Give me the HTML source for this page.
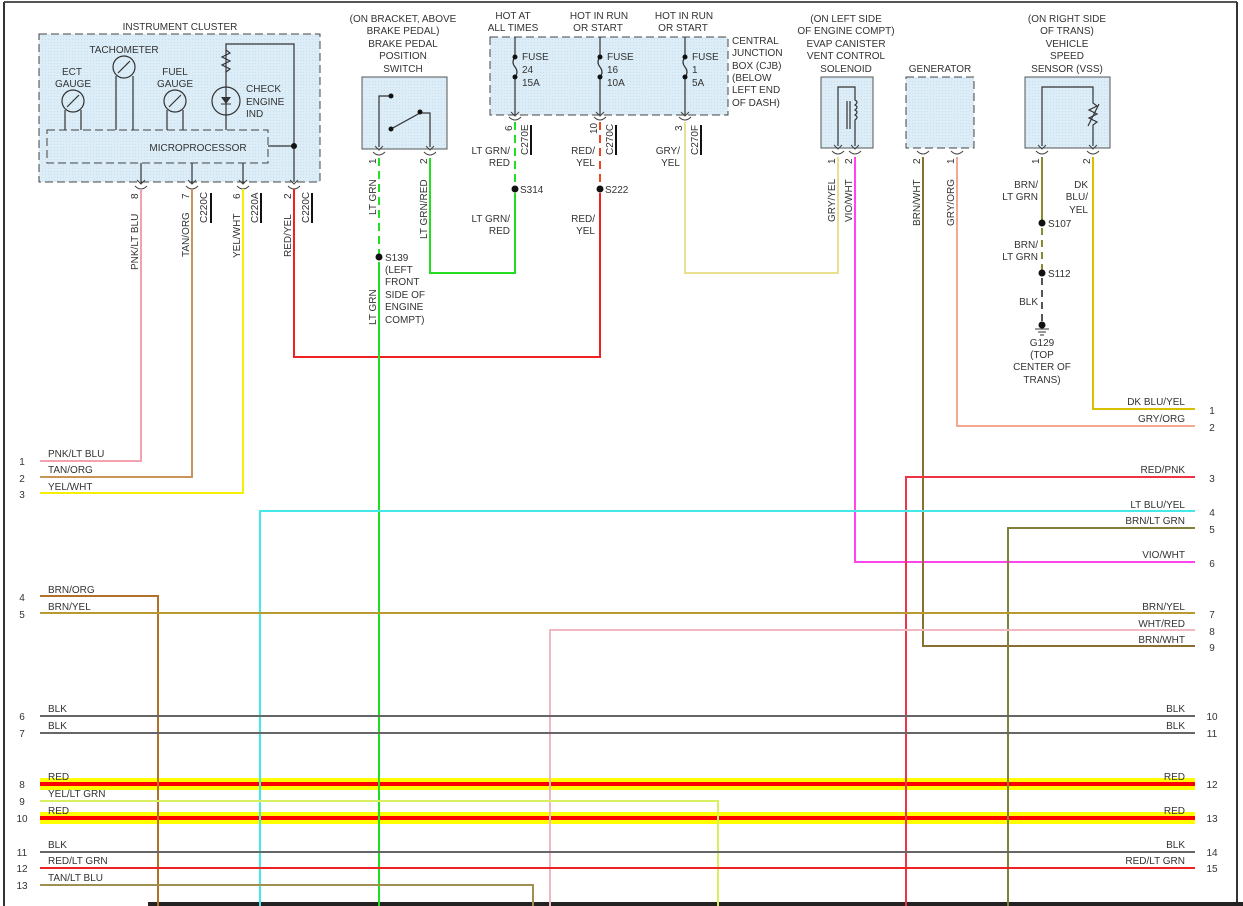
<!DOCTYPE html>
<html><head><meta charset="utf-8"><style>
html,body{margin:0;padding:0;background:#fff;}
svg{display:block;font-family:"Liberation Sans",sans-serif;font-size:10px;fill:#333;}
text{fill:#333;}
</style></head><body>
<svg width="1243" height="906" viewBox="0 0 1243 906" xmlns="http://www.w3.org/2000/svg">
<defs>
<pattern id="dots" width="3" height="3" patternUnits="userSpaceOnUse"><rect width="3" height="3" fill="#dcedf7"/><rect width="1" height="1" fill="#c8e0ee"/></pattern>
</defs>
<line x1="4" y1="2" x2="1237" y2="2" stroke="#555" stroke-width="2"/>
<line x1="4" y1="2" x2="4" y2="906" stroke="#333" stroke-width="2"/>
<line x1="1237" y1="2" x2="1237" y2="904" stroke="#333" stroke-width="2"/>
<rect x="148" y="902" width="1095" height="4" fill="#222"/>

<text x="180" y="30" text-anchor="middle">INSTRUMENT CLUSTER</text>
<rect x="39" y="34" width="281" height="148" fill="url(#dots)" stroke="#444" stroke-dasharray="8,4"/>
<rect x="47" y="130" width="221" height="33" fill="none" stroke="#444" stroke-dasharray="8,4"/>
<text x="198" y="151" text-anchor="middle">MICROPROCESSOR</text>
<text x="72" y="75" text-anchor="middle">ECT</text><text x="73" y="87" text-anchor="middle">GAUGE</text>
<text x="124" y="53" text-anchor="middle">TACHOMETER</text>
<text x="175" y="75" text-anchor="middle">FUEL</text><text x="175" y="87" text-anchor="middle">GAUGE</text>
<text x="246" y="92">CHECK</text><text x="246" y="105">ENGINE</text><text x="246" y="117">IND</text>
<g stroke="#333" fill="none" stroke-width="1.2">
<circle cx="73" cy="101" r="11"/><line x1="67" y1="107" x2="79" y2="95"/>
<path d="M65,130 V110 M81,130 V110"/>
<circle cx="124" cy="67" r="11"/><line x1="118" y1="73" x2="130" y2="61"/>
<path d="M116,130 V76 M133,130 V76"/>
<circle cx="175" cy="101" r="11"/><line x1="169" y1="107" x2="181" y2="95"/>
<path d="M167,130 V110 M183,130 V110"/>
<circle cx="226" cy="101" r="14"/>
<path d="M226,130 V44 H294 V182"/>
<path d="M226,50 l4,3 -8,4 8,4 -8,4 8,4 -4,3"/>
<path d="M268,146 H294"/>
<path d="M141,163 V184 M192,163 V184 M243,163 V184"/>
</g>
<path d="M221,97 h10 l-5,7z" fill="#333"/><line x1="221" y1="104" x2="231" y2="104" stroke="#333"/>
<circle cx="294" cy="146" r="3" fill="#111"/>

<g text-anchor="middle">
<text x="403" y="22">(ON BRACKET, ABOVE</text><text x="403" y="34">BRAKE PEDAL)</text>
<text x="403" y="47">BRAKE PEDAL</text><text x="403" y="59">POSITION</text><text x="403" y="72">SWITCH</text>
</g>
<rect x="362" y="77" width="85" height="72" fill="url(#dots)" stroke="#555"/>
<g stroke="#333" fill="none" stroke-width="1.2">
<path d="M379,147 V96 H391 M430,147 V113 H420 L391,129"/>
</g>
<circle cx="391" cy="96" r="2.5" fill="#111"/><circle cx="420" cy="112" r="2.5" fill="#111"/><circle cx="391" cy="129" r="2.5" fill="#111"/>

<g text-anchor="middle">
<text x="513" y="19">HOT AT</text><text x="513" y="31">ALL TIMES</text>
<text x="599" y="19">HOT IN RUN</text><text x="598" y="31">OR START</text>
<text x="684" y="19">HOT IN RUN</text><text x="683" y="31">OR START</text>
</g>
<rect x="490" y="37" width="238" height="78" fill="url(#dots)" stroke="#444" stroke-dasharray="8,4"/>
<g stroke="#333" fill="none" stroke-width="1.2">
<path d="M515,37 V57 q-4,5 0,10 q4,5 0,10 V115"/>
<path d="M600,37 V57 q-4,5 0,10 q4,5 0,10 V115"/>
<path d="M685,37 V57 q-4,5 0,10 q4,5 0,10 V115"/>
</g>
<g fill="#111"><circle cx="515" cy="57" r="2.5"/><circle cx="515" cy="77" r="2.5"/><circle cx="600" cy="57" r="2.5"/><circle cx="600" cy="77" r="2.5"/><circle cx="685" cy="57" r="2.5"/><circle cx="685" cy="77" r="2.5"/></g>
<text x="522" y="60">FUSE</text><text x="522" y="73">24</text><text x="522" y="86">15A</text>
<text x="607" y="60">FUSE</text><text x="607" y="73">16</text><text x="607" y="86">10A</text>
<text x="692" y="60">FUSE</text><text x="692" y="73">1</text><text x="692" y="86">5A</text>
<text x="732" y="44">CENTRAL</text><text x="732" y="56">JUNCTION</text><text x="732" y="69">BOX (CJB)</text><text x="732" y="81">(BELOW</text><text x="732" y="93">LEFT END</text><text x="732" y="106">OF DASH)</text>

<g text-anchor="middle">
<text x="846" y="22">(ON LEFT SIDE</text><text x="846" y="34">OF ENGINE COMPT)</text>
<text x="846" y="47">EVAP CANISTER</text><text x="846" y="59">VENT CONTROL</text><text x="846" y="72">SOLENOID</text>
</g>
<rect x="821" y="77" width="52" height="71" fill="url(#dots)" stroke="#555"/>
<g stroke="#333" fill="none" stroke-width="1.2">
<path d="M838,146 V87 H855 V100 q4,2 0,5 q4,2 0,5 q4,2 0,5 q4,2 0,5 V146"/>
<path d="M847,101 V129 M850,101 V129"/>
</g>

<text x="940" y="72" text-anchor="middle">GENERATOR</text>
<rect x="906" y="77" width="68" height="71" fill="url(#dots)" stroke="#444" stroke-dasharray="8,4"/>

<g text-anchor="middle">
<text x="1067" y="22">(ON RIGHT SIDE</text><text x="1067" y="34">OF TRANS)</text>
<text x="1067" y="47">VEHICLE</text><text x="1067" y="59">SPEED</text><text x="1067" y="72">SENSOR (VSS)</text>
</g>
<rect x="1025" y="77" width="85" height="71" fill="url(#dots)" stroke="#555"/>
<g stroke="#333" fill="none" stroke-width="1.2">
<path d="M1042,146 V87 H1093 V103 l4,3 -8,4 8,4 -8,4 8,4 -4,3 V146"/>
<line x1="1088" y1="126" x2="1099" y2="104"/>
</g>

<g stroke="#444" fill="none" stroke-width="1">
<path d="M137,180 l4,4 4,-4 M188,180 l4,4 4,-4 M239,180 l4,4 4,-4 M290,180 l4,4 4,-4"/>
<path d="M135,186 q6,6 12,0 M186,186 q6,6 12,0 M237,186 q6,6 12,0 M288,186 q6,6 12,0"/>
<path d="M375,146 l4,4 4,-4 M426,146 l4,4 4,-4 M373,152 q6,6 12,0 M424,152 q6,6 12,0"/>
<path d="M511,112 l4,4 4,-4 M596,112 l4,4 4,-4 M681,112 l4,4 4,-4 M509,117 q6,6 12,0 M594,117 q6,6 12,0 M679,117 q6,6 12,0"/>
<path d="M834,145 l4,4 4,-4 M851,145 l4,4 4,-4 M832,151 q6,6 12,0 M849,151 q6,6 12,0"/>
<path d="M917,151 q6,6 12,0 M951,151 q6,6 12,0"/>
<path d="M1038,145 l4,4 4,-4 M1089,145 l4,4 4,-4 M1036,151 q6,6 12,0 M1087,151 q6,6 12,0"/>
</g>

<g>
<text transform="translate(138,199) rotate(-90)">8</text>
<text transform="translate(138,270) rotate(-90)">PNK/LT BLU</text>
<text transform="translate(189,199) rotate(-90)">7</text>
<text transform="translate(189,257) rotate(-90)">TAN/ORG</text>
<text transform="translate(240,199) rotate(-90)">6</text>
<text transform="translate(240,258) rotate(-90)">YEL/WHT</text>
<text transform="translate(291,199) rotate(-90)">2</text>
<text transform="translate(291,257) rotate(-90)">RED/YEL</text>
<text transform="translate(207,223) rotate(-90)">C220C</text>
<text transform="translate(258,223) rotate(-90)">C220A</text>
<text transform="translate(309,223) rotate(-90)">C220C</text>
<text transform="translate(376,164) rotate(-90)">1</text>
<text transform="translate(376,215) rotate(-90)">LT GRN</text>
<text transform="translate(376,325) rotate(-90)">LT GRN</text>
<text transform="translate(427,164) rotate(-90)">2</text>
<text transform="translate(427,239) rotate(-90)">LT GRN/RED</text>
<text transform="translate(512,131) rotate(-90)">6</text>
<text transform="translate(528,155) rotate(-90)">C270E</text>
<text transform="translate(597,134) rotate(-90)">10</text>
<text transform="translate(613,155) rotate(-90)">C270C</text>
<text transform="translate(682,131) rotate(-90)">3</text>
<text transform="translate(698,155) rotate(-90)">C270F</text>
<text transform="translate(835,164) rotate(-90)">1</text>
<text transform="translate(835,222) rotate(-90)">GRY/YEL</text>
<text transform="translate(852,164) rotate(-90)">2</text>
<text transform="translate(852,222) rotate(-90)">VIO/WHT</text>
<text transform="translate(920,164) rotate(-90)">2</text>
<text transform="translate(920,226) rotate(-90)">BRN/WHT</text>
<text transform="translate(954,164) rotate(-90)">1</text>
<text transform="translate(954,226) rotate(-90)">GRY/ORG</text>
<text transform="translate(1039,164) rotate(-90)">1</text>
<text transform="translate(1090,164) rotate(-90)">2</text>
</g>
<g stroke="#111" stroke-width="2">
<line x1="211" y1="193" x2="211" y2="223"/><line x1="261" y1="193" x2="261" y2="223"/><line x1="312" y1="193" x2="312" y2="223"/>
<line x1="531" y1="125" x2="531" y2="155"/><line x1="616" y1="125" x2="616" y2="155"/><line x1="701" y1="125" x2="701" y2="155"/>
</g>

<g text-anchor="end">
<text x="510" y="154">LT GRN/</text><text x="510" y="166">RED</text>
<text x="510" y="222">LT GRN/</text><text x="510" y="234">RED</text>
<text x="595" y="154">RED/</text><text x="595" y="166">YEL</text>
<text x="595" y="222">RED/</text><text x="595" y="234">YEL</text>
<text x="680" y="154">GRY/</text><text x="680" y="166">YEL</text>
<text x="1038" y="188">BRN/</text><text x="1038" y="200">LT GRN</text>
<text x="1038" y="248">BRN/</text><text x="1038" y="260">LT GRN</text>
<text x="1038" y="305">BLK</text>
<text x="1088" y="188">DK</text><text x="1088" y="200">BLU/</text><text x="1088" y="213">YEL</text>
</g>
<text x="520" y="193">S314</text><text x="605" y="193">S222</text>
<text x="385" y="261">S139</text><text x="385" y="273">(LEFT</text><text x="385" y="285">FRONT</text><text x="385" y="298">SIDE OF</text><text x="385" y="310">ENGINE</text><text x="385" y="323">COMPT)</text>
<text x="1048" y="227">S107</text><text x="1048" y="277">S112</text>
<g text-anchor="middle"><text x="1042" y="346">G129</text><text x="1042" y="358">(TOP</text><text x="1042" y="370">CENTER OF</text><text x="1042" y="383">TRANS)</text></g>

<rect x="40" y="778" width="1155" height="12" fill="#ffff00"/><rect x="40" y="782" width="1155" height="4" fill="#ff0000"/>
<rect x="40" y="812" width="1155" height="12" fill="#ffff00"/><rect x="40" y="816" width="1155" height="4" fill="#ff0000"/>

<g fill="none" stroke-width="2">
<path d="M141,189 V461 H40" stroke="#f3a0b0"/>
<path d="M192,189 V477 H40" stroke="#c8945a"/>
<path d="M243,189 V493 H40" stroke="#f5f000"/>
<path d="M294,189 V357 H600 V193" stroke="#ee2222"/>
<path d="M379,158 V257" stroke="#22dd22" stroke-dasharray="8,5"/>
<path d="M379,262 V906" stroke="#22dd22"/>
<path d="M430,158 V273 H515 V193" stroke="#22dd22"/>
<path d="M515,122 V185" stroke="#22dd22" stroke-dasharray="8,5"/>
<path d="M600,122 V185" stroke="#ee4422" stroke-dasharray="8,5"/>
<path d="M685,122 V273 H838 V157" stroke="#e8e090"/>
<path d="M855,157 V562 H1195" stroke="#ff44ee"/>
<path d="M923,157 V646 H1195" stroke="#8a7030"/>
<path d="M957,157 V426 H1195" stroke="#f4a890"/>
<path d="M1042,157 V223" stroke="#8a8a30"/>
<path d="M1042,228 V273" stroke="#8a8a30" stroke-dasharray="7,5"/>
<path d="M1042,278 V322" stroke="#555" stroke-dasharray="7,5"/>
<path d="M1093,157 V409 H1195" stroke="#d8c000"/>
<path d="M906,906 V477 H1195" stroke="#ee3344"/>
<path d="M260,906 V511 H1195" stroke="#44e8e8"/>
<path d="M1008,906 V528 H1195" stroke="#80803a"/>
<path d="M40,596 H158 V906" stroke="#b0702a"/>
<path d="M40,613 H1195" stroke="#b89a30"/>
<path d="M550,906 V630 H1195" stroke="#f0b8c0"/>
<path d="M40,716 H1195" stroke="#666"/>
<path d="M40,733 H1195" stroke="#666"/>
<path d="M40,801 H718 V906" stroke="#d8f060"/>
<path d="M40,852 H1195" stroke="#666"/>
<path d="M40,868 H1195" stroke="#ee2222"/>
<path d="M40,885 H533 V906" stroke="#a09050"/>
</g>

<g fill="#111">
<circle cx="515" cy="189" r="3.5"/><circle cx="600" cy="189" r="3.5"/><circle cx="379" cy="257" r="3.5"/>
<circle cx="1042" cy="223" r="3.5"/><circle cx="1042" cy="273" r="3.5"/><circle cx="1042" cy="325" r="3.5"/>
</g>
<path d="M1035,329 h14 M1038,332 h8 M1040,335 h4" stroke="#333"/>

<g>
<text x="48" y="457">PNK/LT BLU</text><text x="48" y="473">TAN/ORG</text><text x="48" y="490">YEL/WHT</text>
<text x="48" y="593">BRN/ORG</text><text x="48" y="610">BRN/YEL</text>
<text x="48" y="712">BLK</text><text x="48" y="729">BLK</text>
<text x="48" y="780">RED</text><text x="48" y="797">YEL/LT GRN</text><text x="48" y="814">RED</text>
<text x="48" y="848">BLK</text><text x="48" y="864">RED/LT GRN</text><text x="48" y="881">TAN/LT BLU</text>
</g>
<g text-anchor="middle">
<text x="22" y="465">1</text><text x="22" y="482">2</text><text x="22" y="498">3</text>
<text x="22" y="601">4</text><text x="22" y="618">5</text><text x="22" y="720">6</text><text x="22" y="737">7</text>
<text x="22" y="788">8</text><text x="22" y="805">9</text><text x="22" y="822">10</text>
<text x="22" y="856">11</text><text x="22" y="872">12</text><text x="22" y="889">13</text>
</g>
<g text-anchor="end">
<text x="1185" y="405">DK BLU/YEL</text><text x="1185" y="422">GRY/ORG</text><text x="1185" y="473">RED/PNK</text>
<text x="1185" y="508">LT BLU/YEL</text><text x="1185" y="524">BRN/LT GRN</text><text x="1185" y="558">VIO/WHT</text>
<text x="1185" y="610">BRN/YEL</text><text x="1185" y="627">WHT/RED</text><text x="1185" y="643">BRN/WHT</text>
<text x="1185" y="712">BLK</text><text x="1185" y="729">BLK</text><text x="1185" y="780">RED</text><text x="1185" y="814">RED</text>
<text x="1185" y="848">BLK</text><text x="1185" y="864">RED/LT GRN</text>
</g>
<g text-anchor="middle">
<text x="1212" y="414">1</text><text x="1212" y="431">2</text><text x="1212" y="482">3</text><text x="1212" y="516">4</text>
<text x="1212" y="533">5</text><text x="1212" y="567">6</text><text x="1212" y="618">7</text><text x="1212" y="635">8</text>
<text x="1212" y="651">9</text><text x="1212" y="720">10</text><text x="1212" y="737">11</text><text x="1212" y="788">12</text>
<text x="1212" y="822">13</text><text x="1212" y="856">14</text><text x="1212" y="872">15</text>
</g>
</svg>
</body></html>
